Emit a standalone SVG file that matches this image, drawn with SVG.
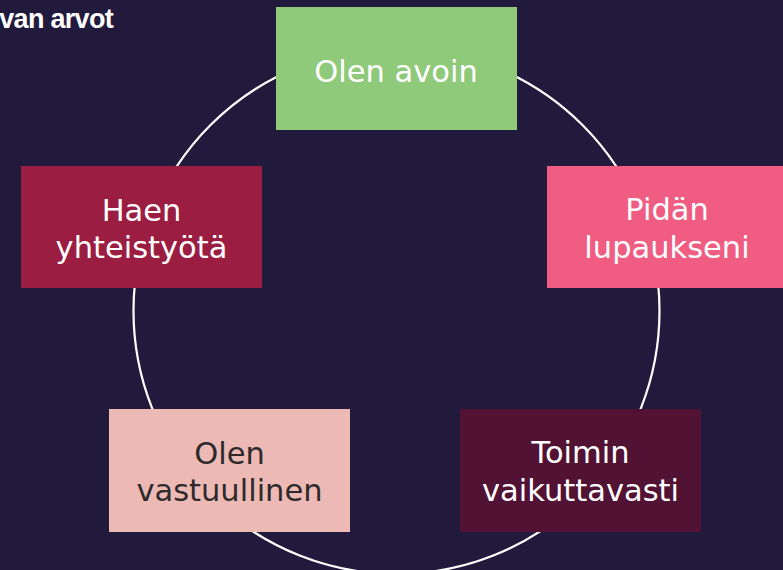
<svg xmlns="http://www.w3.org/2000/svg" width="783" height="570" viewBox="0 0 783 570">
  <style>
    .box text { font-family: "DejaVu Sans", Verdana, sans-serif; font-size: 30.5px; text-anchor: middle; fill: #ffffff; }
    .box text.dark { fill: #2e2a2c; }
    .title { font-family: "Liberation Sans", Arial, sans-serif; font-weight: bold; font-size: 27px; fill: #ffffff; letter-spacing: -0.7px; }
  </style>
  <rect x="0" y="0" width="783" height="570" fill="#221a3d"/>
  <text class="title" x="113" y="28" text-anchor="end">van arvot</text>
  <g id="connectors">
    <circle cx="396.5" cy="311" r="263" fill="none" stroke="#ffffff" stroke-width="2.2"/>
  </g>
  <g id="node-olen-avoin" class="box">
    <rect x="276" y="7" width="241" height="123" fill="#8fc97a"/>
    <text x="396" y="82">Olen avoin</text>
  </g>
  <g id="node-pidan-lupaukseni" class="box">
    <rect x="547" y="166" width="241" height="122" fill="#f05c82"/>
    <text x="667" y="220">Pidän</text>
    <text x="667" y="258">lupaukseni</text>
  </g>
  <g id="node-haen-yhteistyota" class="box">
    <rect x="21" y="166" width="241" height="122" fill="#9b1d42"/>
    <text x="141.5" y="220.5">Haen</text>
    <text x="141.5" y="258">yhteistyötä</text>
  </g>
  <g id="node-olen-vastuullinen" class="box">
    <rect x="109" y="409" width="241" height="123" fill="#ecb9b4"/>
    <text class="dark" x="229.5" y="464">Olen</text>
    <text class="dark" x="229.5" y="501">vastuullinen</text>
  </g>
  <g id="node-toimin-vaikuttavasti" class="box">
    <rect x="460" y="409" width="241" height="123" fill="#521234"/>
    <text x="580.5" y="463">Toimin</text>
    <text x="580.5" y="501">vaikuttavasti</text>
  </g>
</svg>
